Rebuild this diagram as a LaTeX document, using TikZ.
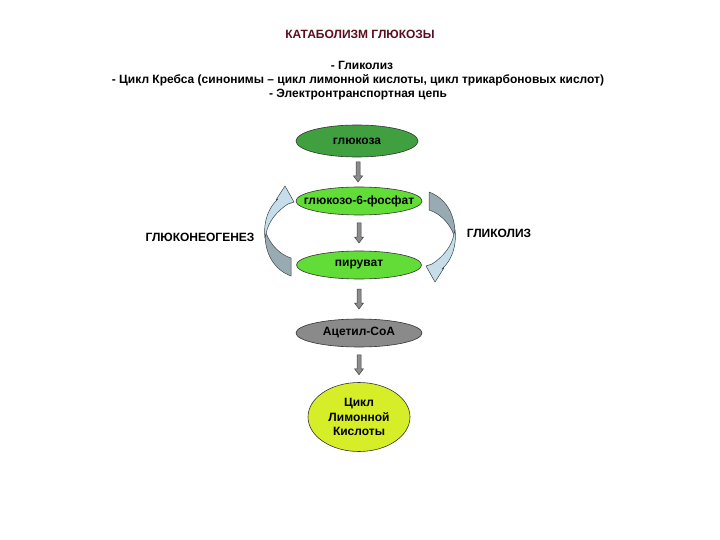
\documentclass[tikz,border=0pt]{standalone}
\usepackage{fontspec}
\setmainfont{Liberation Sans}
\usetikzlibrary{shapes.geometric,calc}
\definecolor{titlered}{HTML}{5A0F1E}
\definecolor{darkgreen}{HTML}{40A040}
\definecolor{lightgreen}{HTML}{62DC36}
\definecolor{acetyl}{HTML}{8A8A8A}
\definecolor{krebs}{HTML}{D6EE28}
\definecolor{arrlight}{HTML}{C6DEEA}
\definecolor{arrdark}{HTML}{98AAB2}
\definecolor{arredge}{HTML}{3C4448}
\tikzset{
  txt/.style={font=\bfseries\fontsize{12}{14}\selectfont, inner sep=0pt, align=center},
  oval/.style={ellipse, draw=black!80, line width=0.6pt, inner sep=0pt, font=\bfseries\fontsize{12}{14.5}\selectfont, align=center},
  blkarrow/.style={draw=black!75, fill=black!45, line width=0.5pt, line join=miter},
  curvlight/.style={fill=arrlight, draw=arredge, line width=0.5pt, line join=round},
  curvdark/.style={fill=arrdark, draw=arredge, line width=0.5pt, line join=round}
}
\newcommand{\blockdown}[1]{%
  \draw[blkarrow] ($(#1)+(-2,-10)$) -- ($(#1)+(2,-10)$) -- ($(#1)+(2,4)$) -- ($(#1)+(4.5,4)$)
    -- ($(#1)+(0,10)$) -- ($(#1)+(-4.5,4)$) -- ($(#1)+(-2,4)$) -- cycle;}
\newcommand{\curvedshape}{%
  \draw[curvdark] (265,234) .. controls (265,255) and (275,270) .. (291,276) -- (291,258)
    .. controls (281,255) and (271,246) .. (266,233) -- cycle;
  \draw[curvlight] (265,238) .. controls (263,221) and (269,207) .. (278,199) -- (276,200) -- (285,186) -- (294,202) -- (288,204)
    .. controls (277,211) and (268,222) .. (266,234) -- cycle;}
\begin{document}
\begin{tikzpicture}[x=1pt,y=-1pt]
\useasboundingbox[fill=white] (0,0) rectangle (720,540);
\node[txt, text=titlered] (title) at (360,34) {КАТАБОЛИЗМ ГЛЮКОЗЫ};
\node[txt] (l1) at (362,65) {- Гликолиз};
\node[txt] (l2) at (358,80) {- Цикл Кребса (синонимы – цикл лимонной кислоты, цикл трикарбоновых кислот)};
\node[txt] (l3) at (358,95) {- Электронтранспортная цепь};

\node[oval, fill=darkgreen, minimum width=122pt, minimum height=32pt] (A) at (357,141) {глюкоза};
\node[oval, fill=lightgreen, minimum width=126pt, minimum height=28pt, inner xsep=-11pt] (B) at (359,201) {глюкозо-6-фосфат};
\node[oval, fill=lightgreen, minimum width=125pt, minimum height=28pt] (C) at (359,265) {пируват};
\node[oval, fill=acetyl, minimum width=126pt, minimum height=28pt] (D) at (359,333) {Ацетил-СоА};
\node[oval, fill=krebs, minimum width=102pt, minimum height=69pt] (E) at (359,417) {Цикл\\Лимонной\\Кислоты};

\path (A.south) -- (B.north) coordinate[midway] (m1);
\path (B.south) -- (C.north) coordinate[midway] (m2);
\path (C.south) -- (D.north) coordinate[midway] (m3);
\path (D.south) -- (E.north) coordinate[midway] (m4);
\blockdown{m1}
\blockdown{m2}
\blockdown{m3}
\blockdown{m4}

\node[txt] (gng) at (200,237) {ГЛЮКОНЕОГЕНЕЗ};
\node[txt] (gly) at (499,233) {ГЛИКОЛИЗ};

% left curved arrow (gluconeogenesis)
\curvedshape
% right curved arrow (glycolysis)
\begin{scope}[rotate around={180:(360,234)}]
\curvedshape
\end{scope}
\end{tikzpicture}
\end{document}
